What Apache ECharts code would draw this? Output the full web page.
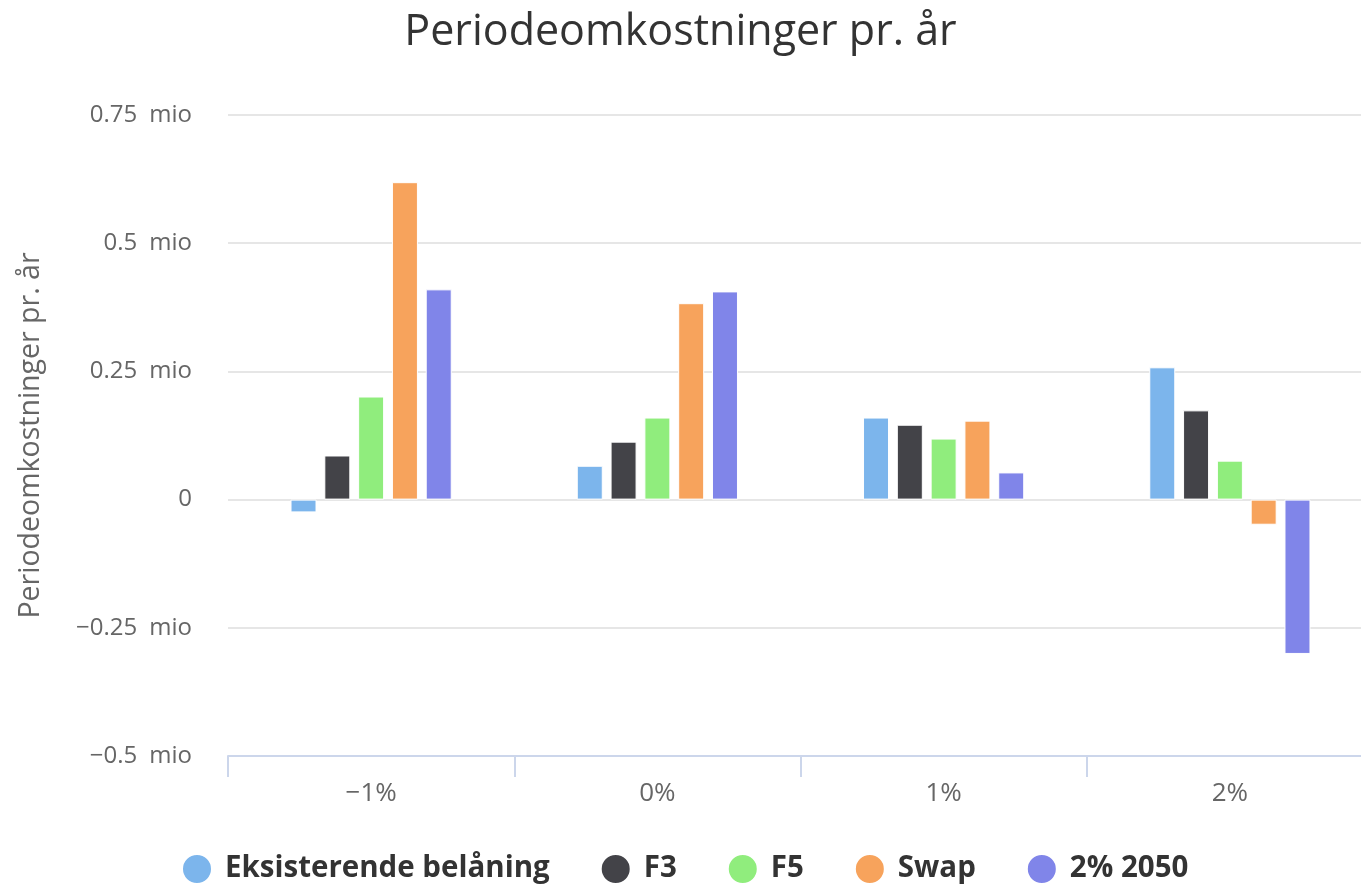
<!DOCTYPE html>
<html>
<head>
<meta charset="utf-8">
<script src="https://cdn.jsdelivr.net/npm/echarts@6/dist/echarts.min.js"></script>
<style>
html, body { margin: 0; padding: 0; background: #fff; }
#chart { width: 1361px; height: 885px; }
</style>
</head>
<body>
<div id="chart"></div>
<script>
// data (mio kr)
var categories = ['-1%', '0%', '1%', '2%'];
var seriesNames = ['Eksisterende belåning', 'F3', 'F5', 'Swap', '2% 2050'];
var eksisterende = [-0.025, 0.066, 0.160, 0.258];
var f3 = [0.086, 0.113, 0.146, 0.174];
var f5 = [0.201, 0.160, 0.119, 0.076];
var swap = [0.619, 0.383, 0.154, -0.049];
var laan2050 = [0.410, 0.406, 0.053, -0.301];
var colors = ['#7cb5ec', '#434348', '#90ed7d', '#f7a35c', '#8085e9'];

var font = 'Open Sans';
var myChart = echarts.init(document.getElementById('chart'));

function minus(s) { return String(s).replace('-', '\u2212'); }

var values = [eksisterende, f3, f5, swap, laan2050];
var series = [];
for (var i = 0; i < seriesNames.length; i++) {
    series.push({
        name: seriesNames[i],
        type: 'bar',
        data: values[i],
        barWidth: 26,
        barGap: '30%',
        itemStyle: { color: colors[i], borderColor: '#fff', borderWidth: 1 },
        animation: false
    });
}

option = {
    color: colors,
    title: {
        text: 'Periodeomkostninger pr. år',
        left: 'center',
        top: 6,
        textStyle: { fontFamily: font, fontSize: 43, fontWeight: 'normal', color: '#333' }
    },
    legend: {
        bottom: -5,
        left: 176,
        icon: 'circle',
        itemWidth: 30,
        itemHeight: 30,
        itemGap: 50,
        textStyle: { fontFamily: font, fontSize: 29.5, fontWeight: 'bold', color: '#333', padding: [0, 0, 0, 8] },
        data: seriesNames
    },
    grid: { left: 228, top: 115, width: 1145, bottom: 129, outerBoundsMode: 'none' },
    xAxis: {
        type: 'category',
        data: categories,
        axisLine: { onZero: false, lineStyle: { color: '#ccd6eb', width: 2 } },
        axisTick: { show: true, length: 21, lineStyle: { color: '#ccd6eb', width: 2 } },
        axisLabel: {
            fontFamily: font, fontSize: 26, color: '#666', margin: 25,
            formatter: function (v) { return minus(v); }
        },
        splitLine: { show: false }
    },
    yAxis: {
        type: 'value',
        min: -0.5,
        max: 0.75,
        interval: 0.25,
        name: 'Periodeomkostninger pr. år',
        nameLocation: 'middle',
        nameGap: 183,
        nameTextStyle: { fontFamily: font, fontSize: 28.5, color: '#666' },
        axisLine: { show: false },
        axisTick: { show: false },
        axisLabel: {
            fontFamily: font, fontSize: 24, color: '#666', margin: 36,
            formatter: function (v) { return v === 0 ? '0' : minus(v) + '\u2002mio'; }
        },
        splitLine: { lineStyle: { color: '#e6e6e6', width: 2 } }
    },
    series: series
};

myChart.setOption(option);
</script>
</body>
</html>
